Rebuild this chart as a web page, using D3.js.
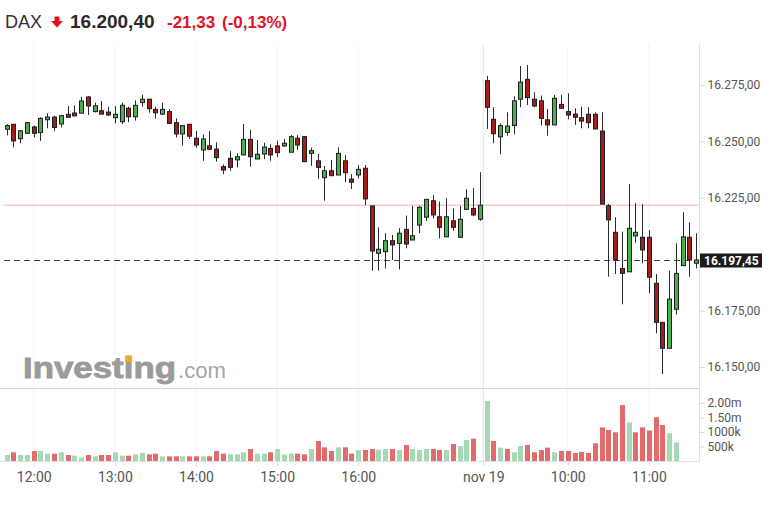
<!DOCTYPE html>
<html>
<head>
<meta charset="utf-8">
<script src="https://cdn.jsdelivr.net/npm/d3@7"></script>
<style>
  body { margin: 0; background: #fff; }
  svg { display: block; font-family: Roboto, 'Liberation Sans', Arial, sans-serif; }
</style>
</head>
<body>
<div id="chart"></div>
<script>

////////////////////////////////////////////////////////////
// Data (DAX, 5 minute bars)
////////////////////////////////////////////////////////////

// nov 18 from 11:40 to 17:30, nov 19 from 09:00 to 11:35
const sessions = [
  { day: 'nov 18', start: '11:40', bars: 71 },
  { day: 'nov 19', start: '09:00', bars: 32 }
]

const open = [
  16255.4, 16257.6, 16251.2, 16253.6, 16256.4, 16253.9, 16259.6, 16260.8, 16257.7, 16262.0,
  16262.6, 16262.5, 16269.7, 16263.2, 16263.6, 16263.0, 16260.5, 16258.7, 16264.7, 16260.9,
  16267.2, 16268.7, 16264.2, 16262.1, 16263.2, 16258.3, 16253.3, 16257.6, 16251.4, 16246.2,
  16248.1, 16246.6, 16238.8, 16242.5, 16241.8, 16244.0, 16250.9, 16242.2, 16244.4, 16246.9,
  16248.0, 16248.0, 16245.2, 16251.4, 16252.1, 16244.7, 16241.4, 16233.9, 16237.0, 16235.1,
  16241.4, 16233.3, 16235.1, 16238.1, 16221.4, 16200.4, 16201.1, 16206.0, 16204.8, 16211.0,
  16206.3, 16212.9, 16216.4, 16223.7, 16216.6, 16207.7, 16214.8, 16207.5, 16219.9, 16220.3,
  16215.5,
  16276.9, 16259.8, 16252.0, 16254.0, 16257.0, 16268.7, 16277.5, 16268.7, 16268.0,
  16259.6, 16257.3, 16266.4, 16263.2, 16262.1, 16260.5, 16262.0, 16262.0, 16254.6, 16221.5,
  16209.7, 16193.7, 16192.2, 16208.1, 16207.5, 16207.5, 16187.1, 16169.8, 16158.3, 16175.6,
  16194.9, 16207.5, 16196.0
]

const high = [
  16257.6, 16257.6, 16255.1, 16258.6, 16257.0, 16260.7, 16262.5, 16261.4, 16261.7, 16265.7,
  16266.0, 16269.8, 16270.1, 16267.2, 16267.9, 16265.4, 16265.7, 16267.2, 16265.4, 16268.2,
  16270.7, 16268.9, 16265.4, 16267.2, 16264.2, 16260.2, 16257.3, 16257.7, 16254.6, 16253.1,
  16254.6, 16249.6, 16239.8, 16245.7, 16244.7, 16257.7, 16255.1, 16250.6, 16249.4, 16248.7,
  16250.3, 16251.1, 16252.8, 16252.8, 16252.4, 16247.2, 16244.4, 16239.1, 16241.8, 16247.4,
  16244.0, 16235.5, 16239.5, 16239.5, 16221.4, 16211.9, 16209.3, 16208.5, 16211.5, 16217.1,
  16221.4, 16221.4, 16224.3, 16226.2, 16223.3, 16224.8, 16220.3, 16221.4, 16228.8, 16229.3,
  16236.3,
  16279.1, 16265.1, 16258.0, 16262.9, 16270.0, 16283.4, 16283.9, 16271.8, 16270.3,
  16264.4, 16270.6, 16270.6, 16271.3, 16264.7, 16265.4, 16265.1, 16262.9, 16262.9, 16222.2,
  16216.4, 16210.0, 16231.1, 16222.6, 16222.2, 16210.7, 16191.2, 16169.8, 16192.7, 16204.8,
  16218.6, 16214.1, 16209.3
]

const low = [
  16252.7, 16247.4, 16249.2, 16253.3, 16251.8, 16250.2, 16255.8, 16254.5, 16256.2, 16260.7,
  16261.3, 16262.5, 16261.7, 16262.9, 16262.0, 16261.4, 16258.0, 16257.7, 16258.5, 16259.2,
  16265.4, 16262.7, 16260.1, 16261.7, 16257.7, 16251.8, 16248.1, 16251.1, 16247.2, 16241.4,
  16246.2, 16241.0, 16235.5, 16236.9, 16238.5, 16244.0, 16238.8, 16242.2, 16242.1, 16241.4,
  16243.0, 16247.6, 16245.2, 16246.2, 16241.0, 16239.2, 16233.3, 16223.7, 16234.8, 16235.1,
  16231.9, 16228.9, 16233.6, 16221.8, 16192.7, 16192.7, 16193.7, 16197.4, 16193.3, 16202.6,
  16206.3, 16209.3, 16214.8, 16215.9, 16207.0, 16207.7, 16210.4, 16207.5, 16219.6, 16216.9,
  16214.8,
  16255.5, 16249.2, 16244.3, 16252.5, 16253.1, 16265.1, 16266.1, 16265.1, 16257.0,
  16252.5, 16257.3, 16264.4, 16259.8, 16257.3, 16255.8, 16255.8, 16255.5, 16222.2, 16190.0,
  16191.2, 16177.8, 16192.2, 16205.1, 16196.0, 16182.7, 16164.9, 16146.9, 16158.3, 16173.3,
  16194.9, 16190.0, 16193.7
]

const close = [
  16257.0, 16250.2, 16254.7, 16258.3, 16253.6, 16260.2, 16260.8, 16256.2, 16261.4, 16260.7,
  16261.3, 16267.9, 16265.7, 16265.8, 16262.1, 16261.7, 16262.0, 16266.0, 16260.9, 16266.0,
  16268.7, 16264.5, 16262.7, 16264.2, 16258.0, 16253.3, 16257.0, 16252.3, 16248.4, 16251.1,
  16246.5, 16242.8, 16237.3, 16238.5, 16243.2, 16250.9, 16243.2, 16244.3, 16247.5, 16244.0,
  16245.0, 16249.2, 16252.1, 16248.4, 16241.0, 16245.9, 16238.5, 16237.0, 16234.8, 16244.7,
  16236.1, 16231.9, 16237.6, 16224.5, 16201.4, 16202.2, 16206.0, 16204.1, 16209.3, 16204.5,
  16208.2, 16220.8, 16224.3, 16217.4, 16211.9, 16216.6, 16211.9, 16215.5, 16224.8, 16217.4,
  16221.73,
  16265.1, 16253.4, 16257.0, 16256.8, 16268.0, 16276.3, 16269.4, 16265.7, 16260.2,
  16257.3, 16269.1, 16264.7, 16261.7, 16260.7, 16259.0, 16258.3, 16255.5, 16222.2, 16215.2,
  16197.4, 16191.5, 16211.5, 16209.7, 16201.9, 16189.8, 16169.8, 16158.3, 16180.1, 16191.5,
  16207.7, 16197.4, 16197.45
]

// volume in thousands (no bar for the closing auction and the last bars)
const volume = [
  207, 300, 207, 207, 345, 345, 253, 253, 300, 207,
  184, 115, 207, 161, 207, 207, 300, 184, 184, 230,
  276, 230, 253, 161, 161, 161, 161, 161, 161, 161,
  161, 345, 253, 230, 230, 300, 414, 253, 253, 300,
  414, 230, 253, 253, 230, 414, 690, 472, 345, 472,
  472, 253, 380, 380, 414, 391, 414, 414, 380, 552,
  414, 380, 414, 414, 380, 380, 586, 517, 724, 770,
  null,
  2070, 690, 460, 414, 300, 517, 552, 300, 380,
  460, 300, 345, 345, 276, 310, 276, 610, 1160, 1070,
  990, 1930, 1330, 990, 1160, 1050, 1510, 1240, 955, 645,
  null, null, null
]

const prev_close = 16221.73
const last_price = 16197.45

const price_ticks = [16150, 16175, 16225, 16250, 16275]
const volume_ticks = [500, 1000, 1500, 2000]
const time_ticks = ['nov 18 12:00', 'nov 18 13:00', 'nov 18 14:00', 'nov 18 15:00',
                    'nov 18 16:00', 'nov 19 09:00', 'nov 19 10:00', 'nov 19 11:00']
const time_tick_labels = ['12:00', '13:00', '14:00', '15:00', '16:00', 'nov 19', '10:00', '11:00']

const header = { name: 'DAX', last: '16.200,40', change: '-21,33', pct: '(-0,13%)' }

////////////////////////////////////////////////////////////
// Setup
////////////////////////////////////////////////////////////

const W = 781
const H = 507
const axis_x = 699.5
const plot_top = 44
const price_bottom = 388
const vol_base = 461

const colors = {
  up: '#4cae4c',
  down: '#a31d1d',
  wick: '#2b2b2b',
  vol_up: '#a5d9b6',
  vol_down: '#e36b6b',
  text: '#555',
  red: '#e0141e',
  line: '#e2e2e2'
}

// bar keys
let keys = []
for (let s of sessions) {
  let [h, m] = s.start.split(':').map(Number)
  for (let k = 0; k < s.bars; k++) {
    let t = h * 60 + m + k * 5
    let hh = String(Math.floor(t / 60)).padStart(2, '0')
    let mm = String(t % 60).padStart(2, '0')
    keys.push(`${s.day} ${hh}:${mm}`)
  }
}

let bars = keys.map((k, i) => ({
  key: k, i: i,
  o: open[i], h: high[i], l: low[i], c: close[i],
  v: volume[i],
  up: close[i] >= open[i],
  vol_up: i == 0 ? close[i] >= open[i] : close[i] >= close[i - 1]
}))

const de = d3.formatLocale({ decimal: ',', thousands: '.', grouping: [3], currency: ['', ''] })
const fmt_price = de.format(',.2f')

const x = d3.scaleLinear().domain([0, keys.length - 1]).range([6.7, 696.2])
const y = d3.scaleLinear().domain([16150, 16275]).range([367, 85])
const yv = d3.scaleLinear().domain([0, 2000]).range([vol_base, 403])

// day boundary tick sits between the two sessions
function tick_pos(k) {
  let i = keys.indexOf(k)
  if (i > 0 && k.split(' ').slice(0, 2).join(' ') != keys[i - 1].split(' ').slice(0, 2).join(' ')) {
    return i - 0.5
  }
  return i
}

let svg = d3.select('#chart')
  .append('svg')
  .attr('width', W)
  .attr('height', H)

////////////////////////////////////////////////////////////
// Header
////////////////////////////////////////////////////////////

let head = svg.append('g')
  .style('font-family', "'Liberation Sans', Arial, sans-serif")

head.append('text')
  .attr('x', 5).attr('y', 28)
  .attr('font-size', 18)
  .attr('fill', '#333')
  .text(header.name)

head.append('path')
  .attr('d', 'M54.5,16.5 H59.5 V21 H63 L57,27.5 L51,21 H54.5 Z')
  .attr('fill', colors.red)

head.append('text')
  .attr('x', 70).attr('y', 28)
  .attr('font-size', 19)
  .attr('font-weight', 'bold')
  .attr('fill', '#2a2a2a')
  .text(header.last)

head.append('text')
  .attr('x', 167).attr('y', 28)
  .attr('font-size', 17)
  .attr('font-weight', 'bold')
  .attr('fill', colors.red)
  .text(header.change)

head.append('text')
  .attr('x', 222).attr('y', 28)
  .attr('font-size', 17)
  .attr('font-weight', 'bold')
  .attr('fill', colors.red)
  .text(header.pct)

////////////////////////////////////////////////////////////
// Grid, watermark, reference lines
////////////////////////////////////////////////////////////

svg.append('g')
  .selectAll('line')
  .data(time_ticks)
  .enter()
  .append('line')
    .attr('x1', d => x(tick_pos(d)))
    .attr('x2', d => x(tick_pos(d)))
    .attr('y1', plot_top)
    .attr('y2', vol_base)
    .attr('stroke', d => d.endsWith('09:00') ? '#e6e6e6' : '#f4f4f4')

let wm = svg.append('g')
  .style('font-family', "'Liberation Sans', Arial, sans-serif")
let wm_text = wm.append('text')
  .attr('x', 23).attr('y', 378)
  .attr('font-size', 29)
  .attr('font-weight', 'bold')
  .attr('textLength', 153)
  .attr('lengthAdjust', 'spacingAndGlyphs')
  .attr('fill', '#9b9b9b')
  .attr('stroke', '#9b9b9b')
  .attr('stroke-width', 0.8)
  .text('Investing')
wm.append('text')
  .attr('x', 178).attr('y', 378)
  .attr('font-size', 22)
  .attr('textLength', 48)
  .attr('lengthAdjust', 'spacingAndGlyphs')
  .attr('fill', '#a6a6a6')
  .text('.com')

// orange dot on the second "i"
let ext = wm_text.node().getExtentOfChar(6)
wm.append('rect')
  .attr('x', ext.x + ext.width / 2 - 3.5)
  .attr('y', 378 - 22)
  .attr('width', 7).attr('height', 6)
  .attr('fill', '#f5a623')

// previous close
svg.append('line')
  .attr('x1', 4).attr('x2', axis_x)
  .attr('y1', y(prev_close)).attr('y2', y(prev_close))
  .attr('stroke', '#f5c9c9')
  .attr('stroke-width', 1.5)

// last price
svg.append('line')
  .attr('x1', 4).attr('x2', axis_x)
  .attr('y1', Math.round(y(last_price)) + 0.5).attr('y2', Math.round(y(last_price)) + 0.5)
  .attr('stroke', '#444')
  .attr('stroke-dasharray', '6,4')

////////////////////////////////////////////////////////////
// Candles
////////////////////////////////////////////////////////////

let candles = svg.append('g')
  .selectAll('g')
  .data(bars)
  .enter()
  .append('g')

candles.append('line')
  .attr('x1', d => Math.round(x(d.i)) + 0.5)
  .attr('x2', d => Math.round(x(d.i)) + 0.5)
  .attr('y1', d => y(d.h))
  .attr('y2', d => y(d.l))
  .attr('stroke', colors.wick)
  .attr('stroke-width', 1)

candles.append('rect')
  .attr('x', d => Math.round(x(d.i)) - 1.5)
  .attr('y', d => y(Math.max(d.o, d.c)))
  .attr('width', 4)
  .attr('height', d => Math.max(2, Math.abs(y(d.o) - y(d.c))))
  .attr('fill', d => d.up ? colors.up : colors.down)
  .attr('stroke', '#1e1e1e')
  .attr('stroke-width', 1)

////////////////////////////////////////////////////////////
// Volume
////////////////////////////////////////////////////////////

svg.append('g')
  .selectAll('rect')
  .data(bars.filter(d => d.v != null))
  .enter()
  .append('rect')
    .attr('x', d => Math.round(x(d.i)) - 2)
    .attr('y', d => yv(d.v))
    .attr('width', 5)
    .attr('height', d => vol_base - yv(d.v))
    .attr('fill', d => d.vol_up ? colors.vol_up : colors.vol_down)

////////////////////////////////////////////////////////////
// Axes
////////////////////////////////////////////////////////////

// panel separator and right axis line
svg.append('line')
  .attr('x1', 0).attr('x2', axis_x)
  .attr('y1', price_bottom + 0.5).attr('y2', price_bottom + 0.5)
  .attr('stroke', '#d6d6d6')
svg.append('line')
  .attr('x1', axis_x).attr('x2', axis_x)
  .attr('y1', plot_top).attr('y2', vol_base)
  .attr('stroke', colors.line)

let y_axis = svg.append('g')
  .attr('transform', `translate(${axis_x},0)`)
  .call(
    d3.axisRight(y)
      .tickValues(price_ticks)
      .tickFormat(fmt_price)
      .tickSize(5)
      .tickPadding(3)
  )

let v_axis = svg.append('g')
  .attr('transform', `translate(${axis_x},0)`)
  .call(
    d3.axisRight(yv)
      .tickValues(volume_ticks)
      .tickFormat(v => v >= 1500 ? (v / 1000).toFixed(2) + 'm' : v + 'k')
      .tickSize(5)
      .tickPadding(3)
  )

let x_axis = svg.append('g')
  .attr('transform', `translate(0,${vol_base})`)
  .call(
    d3.axisBottom(x)
      .tickValues(time_ticks.map(tick_pos))
      .tickFormat((d, i) => time_tick_labels[i])
      .tickSize(5)
      .tickPadding(6)
  )

for (let ax of [y_axis, v_axis, x_axis]) {
  ax.select('.domain').remove()
  ax.selectAll('.tick line').attr('stroke', '#dcdcdc')
  ax.selectAll('.tick text')
    .attr('fill', colors.text)
    .style('font-family', 'Roboto, sans-serif')
    .attr('font-size', 12)
}
x_axis.append('line')
  .attr('x1', 0).attr('x2', axis_x)
  .attr('y1', 0.5).attr('y2', 0.5)
  .attr('stroke', colors.line)
x_axis.selectAll('.tick text').attr('font-size', 14)

// last price tag
let tag = svg.append('g')
  .attr('transform', `translate(${axis_x + 0.5},${Math.round(y(last_price)) - 6.5})`)
tag.append('rect')
  .attr('width', 62).attr('height', 14)
  .attr('fill', '#1b1b1b')
tag.append('text')
  .attr('x', 4).attr('y', 11.5)
  .attr('font-size', 12)
  .attr('font-weight', 'bold')
  .attr('fill', '#fff')
  .style('font-family', 'Roboto, sans-serif')
  .text(fmt_price(last_price))

</script>
</body>
</html>
